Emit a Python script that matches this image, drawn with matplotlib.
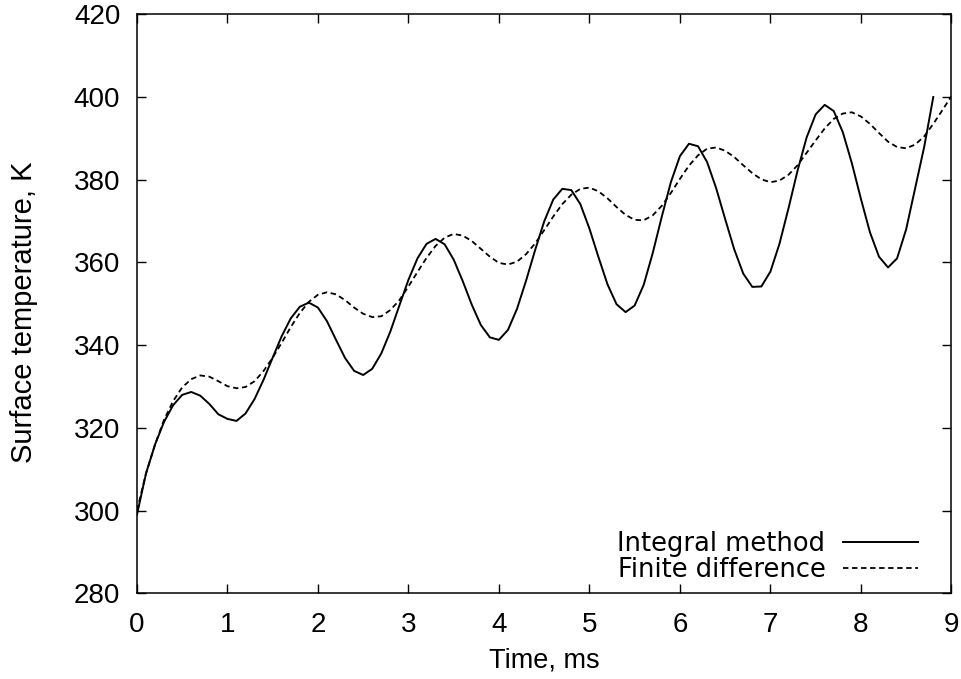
import matplotlib
matplotlib.use("Agg")
import matplotlib.pyplot as plt

plt.rcParams['font.family'] = ['Liberation Sans', 'DejaVu Sans']

# temps (ms), pas de 0.1
t_int = [0.0, 0.1, 0.2, 0.3, 0.4, 0.5, 0.6, 0.7, 0.8, 0.9,
         1.0, 1.1, 1.2, 1.3, 1.4, 1.5, 1.6, 1.7, 1.8, 1.9,
         2.0, 2.1, 2.2, 2.3, 2.4, 2.5, 2.6, 2.7, 2.8, 2.9,
         3.0, 3.1, 3.2, 3.3, 3.4, 3.5, 3.6, 3.7, 3.8, 3.9,
         4.0, 4.1, 4.2, 4.3, 4.4, 4.5, 4.6, 4.7, 4.8, 4.9,
         5.0, 5.1, 5.2, 5.3, 5.4, 5.5, 5.6, 5.7, 5.8, 5.9,
         6.0, 6.1, 6.2, 6.3, 6.4, 6.5, 6.6, 6.7, 6.8, 6.9,
         7.0, 7.1, 7.2, 7.3, 7.4, 7.5, 7.6, 7.7, 7.8, 7.9,
         8.0, 8.1, 8.2, 8.3, 8.4, 8.5, 8.6, 8.7, 8.8]
T_int = [299.0, 309.0, 316.0, 321.5, 325.5, 328.0, 328.7, 327.8, 325.8, 323.3,
         322.2, 321.7, 323.5, 327.0, 331.7, 337.0, 342.2, 346.5, 349.3, 350.3,
         349.1, 345.8, 341.3, 336.9, 333.8, 332.8, 334.3, 338.0, 343.3, 349.6,
         355.8, 361.0, 364.5, 365.7, 364.4, 360.7, 355.5, 349.8, 344.9, 341.9,
         341.3, 343.7, 348.8, 355.6, 363.0, 369.9, 375.2, 377.8, 377.5, 374.1,
         368.2, 361.3, 354.7, 349.9, 348.0, 349.6, 354.6, 362.3, 371.1, 379.4,
         385.7, 388.7, 388.1, 384.3, 378.0, 370.5, 363.2, 357.3, 354.1, 354.2,
         357.8, 364.5, 373.1, 382.2, 390.2, 395.8, 398.1, 396.6, 391.5, 384.0,
         375.4, 367.3, 361.4, 358.8, 361.0, 368.0, 378.0, 388.0, 400.0]

t_fd = [0.0, 0.1, 0.2, 0.3, 0.4, 0.5, 0.6, 0.7, 0.8, 0.9,
        1.0, 1.1, 1.2, 1.3, 1.4, 1.5, 1.6, 1.7, 1.8, 1.9,
        2.0, 2.1, 2.2, 2.3, 2.4, 2.5, 2.6, 2.7, 2.8, 2.9,
        3.0, 3.1, 3.2, 3.3, 3.4, 3.5, 3.6, 3.7, 3.8, 3.9,
        4.0, 4.1, 4.2, 4.3, 4.4, 4.5, 4.6, 4.7, 4.8, 4.9,
        5.0, 5.1, 5.2, 5.3, 5.4, 5.5, 5.6, 5.7, 5.8, 5.9,
        6.0, 6.1, 6.2, 6.3, 6.4, 6.5, 6.6, 6.7, 6.8, 6.9,
        7.0, 7.1, 7.2, 7.3, 7.4, 7.5, 7.6, 7.7, 7.8, 7.9,
        8.0, 8.1, 8.2, 8.3, 8.4, 8.5, 8.6, 8.7, 8.8, 8.9, 9.0]
T_fd = [300.0, 309.0, 316.0, 322.0, 326.5, 329.8, 331.8, 332.7, 332.4, 331.3,
        330.1, 329.6, 329.9, 331.3, 333.8, 337.0, 340.6, 344.4, 347.8, 350.5,
        352.2, 352.8, 352.3, 350.9, 349.1, 347.6, 346.8, 347.0, 348.5, 350.9,
        354.2, 357.7, 361.1, 364.0, 366.0, 366.9, 366.5, 365.2, 363.3, 361.4,
        359.9, 359.5, 360.2, 362.0, 364.6, 367.8, 371.1, 374.1, 376.4, 377.8,
        378.1, 377.2, 375.5, 373.4, 371.5, 370.3, 370.2, 371.4, 373.7, 376.8,
        380.2, 383.4, 385.9, 387.5, 387.8, 387.0, 385.5, 383.5, 381.6, 380.1,
        379.4, 379.8, 381.2, 383.5, 386.5, 389.5, 392.4, 394.7, 396.0, 396.3,
        395.3, 393.5, 391.3, 389.2, 387.9, 387.6, 388.5, 390.5, 393.5, 396.8, 400.2]

x_ticks = [0, 1, 2, 3, 4, 5, 6, 7, 8, 9]
y_ticks = [280, 300, 320, 340, 360, 380, 400, 420]

fig = plt.figure(figsize=(9.61, 6.79), dpi=100)
ax = fig.add_axes([0.1425, 0.126, 0.8475, 0.853])

ax.plot(t_int, T_int, color='black', lw=1.4, label='Integral method')
ax.plot(t_fd, T_fd, color='black', lw=1.3, dashes=(3, 2), label='Finite difference')

ax.set_xlim(0, 9)
ax.set_ylim(280, 420)
ax.set_xticks(x_ticks)
ax.set_yticks(y_ticks)
ax.tick_params(direction='in', length=6.5, width=1.0, top=True, right=True,
               labelsize=20)
ax.tick_params(axis='x', pad=13)
ax.tick_params(axis='y', pad=12)
for s in ax.spines.values():
    s.set_linewidth(1.1)

ax.set_xlabel('Time, ms', fontsize=19.5, labelpad=7)
ax.set_ylabel('Surface temperature, K', fontsize=21)
ax.yaxis.set_label_coords(-0.122, 0.486)

ax.legend(loc='lower right', bbox_to_anchor=(0.959, 0.018), frameon=False,
          markerfirst=False, prop={'family': 'DejaVu Sans', 'size': 18.5},
          handlelength=2.9, handletextpad=0.7, labelspacing=0.0,
          borderpad=0.0, borderaxespad=0.0)

fig.savefig('out.png', dpi=100)
